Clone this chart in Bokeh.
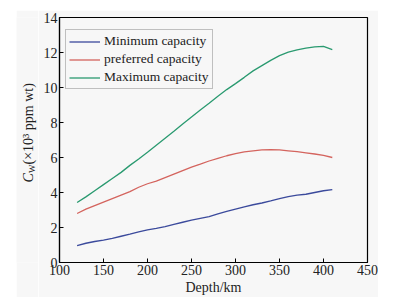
from bokeh.plotting import figure
from bokeh.embed import file_html
from bokeh.resources import INLINE
from bokeh.layouts import row, column
from bokeh.models import Label, Legend, LegendItem, FixedTicker, Spacer
from math import pi

depth = [120, 130, 140, 150, 160, 170, 180, 190, 200, 210, 220, 230, 240, 250, 260,
         270, 280, 290, 300, 310, 320, 330, 340, 350, 360, 370, 380, 390, 400, 410]
minimum = [0.97, 1.10, 1.20, 1.28, 1.38, 1.50, 1.62, 1.75, 1.87, 1.95, 2.05, 2.18, 2.30, 2.42, 2.52,
           2.62, 2.78, 2.92, 3.05, 3.18, 3.30, 3.40, 3.52, 3.65, 3.77, 3.85, 3.90, 4.00, 4.10, 4.17]
preferred = [2.80, 3.05, 3.25, 3.45, 3.65, 3.85, 4.05, 4.30, 4.50, 4.65, 4.85, 5.05, 5.25, 5.45, 5.62,
             5.80, 5.95, 6.10, 6.22, 6.32, 6.38, 6.43, 6.45, 6.43, 6.38, 6.33, 6.27, 6.20, 6.12, 6.00]
maximum = [3.43, 3.75, 4.10, 4.45, 4.80, 5.15, 5.55, 5.92, 6.30, 6.70, 7.10, 7.50, 7.92, 8.32, 8.72,
           9.10, 9.50, 9.88, 10.22, 10.58, 10.95, 11.25, 11.55, 11.82, 12.02, 12.15, 12.25, 12.32, 12.35, 12.17]

series_names = ["Minimum capacity", "preferred capacity", "Maximum capacity"]
series_colors = ["#3b4a9c", "#d4645e", "#2a9a70"]
x_ticks = [100, 150, 200, 250, 300, 350, 400, 450]
y_ticks = [0, 2, 4, 6, 8, 10, 12, 14]

FONT = "Liberation Serif"
BG = "#f7f7f7"
TXT = "#222222"

# main plot
p = figure(width=340, height=287, x_range=(100, 450), y_range=(0, 14),
           output_backend="svg", toolbar_location=None,
           min_border_left=21, min_border_right=11, min_border_top=7, min_border_bottom=35)
p.background_fill_color = BG
p.border_fill_color = BG
p.outline_line_color = "black"
p.outline_line_width = 1.2
p.grid.visible = False

for ax, ticks in ((p.xaxis, x_ticks), (p.yaxis, y_ticks)):
    ax.ticker = FixedTicker(ticks=ticks)
    ax.major_tick_in = 4
    ax.major_tick_out = 0
    ax.minor_tick_line_color = None
    ax.axis_line_color = "black"
    ax.axis_line_width = 1.2
    ax.major_tick_line_color = "black"
    ax.major_label_text_font = FONT
    ax.major_label_text_font_size = "14px"
    ax.major_label_text_color = TXT
    ax.major_label_standoff = 2

p.xaxis.axis_label = "Depth/km"
p.xaxis.axis_label_text_font = FONT
p.xaxis.axis_label_text_font_size = "14px"
p.xaxis.axis_label_text_font_style = "normal"
p.xaxis.axis_label_text_color = TXT
p.xaxis.axis_label_standoff = 2

renderers = []
for ys, c in zip([minimum, preferred, maximum], series_colors):
    r = p.line(depth, ys, line_color=c, line_width=1.3)
    renderers.append(r)

legend = Legend(items=[LegendItem(label=n, renderers=[r]) for n, r in zip(series_names, renderers)],
                location=(6, 173))
legend.label_text_font = FONT
legend.label_text_font_size = "13.5px"
legend.label_text_color = TXT
legend.border_line_color = "#888888"
legend.border_line_width = 1
legend.background_fill_color = BG
legend.background_fill_alpha = 1
legend.padding = 3
legend.spacing = 2
legend.label_height = 15
legend.glyph_height = 15
legend.glyph_width = 31
legend.label_standoff = 4
legend.margin = 0
p.add_layout(legend, "center")

# narrow strip holding the rotated y-axis title: C (italic), W (subscript), (×10³ ppm wt)
t = figure(width=22, height=287, output_backend="svg", toolbar_location=None,
           x_axis_location=None, y_axis_location=None,
           min_border_left=0, min_border_right=0, min_border_top=0, min_border_bottom=0)
t.background_fill_color = BG
t.border_fill_color = BG
t.outline_line_color = None
t.grid.visible = False
lx = 12
t.add_layout(Label(x=lx, y=80, x_units="screen", y_units="screen", angle=pi / 2,
                   text="C", text_font=FONT, text_font_style="italic", text_font_size="14px",
                   text_color=TXT, text_baseline="middle", text_align="left"))
t.add_layout(Label(x=lx + 3.5, y=89.5, x_units="screen", y_units="screen", angle=pi / 2,
                   text="W", text_font=FONT, text_font_size="9px",
                   text_color=TXT, text_baseline="middle", text_align="left"))
t.add_layout(Label(x=lx, y=98, x_units="screen", y_units="screen", angle=pi / 2,
                   text="(×10³ ppm wt)", text_font=FONT, text_font_size="14px",
                   text_color=TXT, text_baseline="middle", text_align="left"))

layout = column(Spacer(height=10), row(Spacer(width=16), t, p, spacing=0), spacing=0)

open("out.html", "w").write(file_html(layout, INLINE))
